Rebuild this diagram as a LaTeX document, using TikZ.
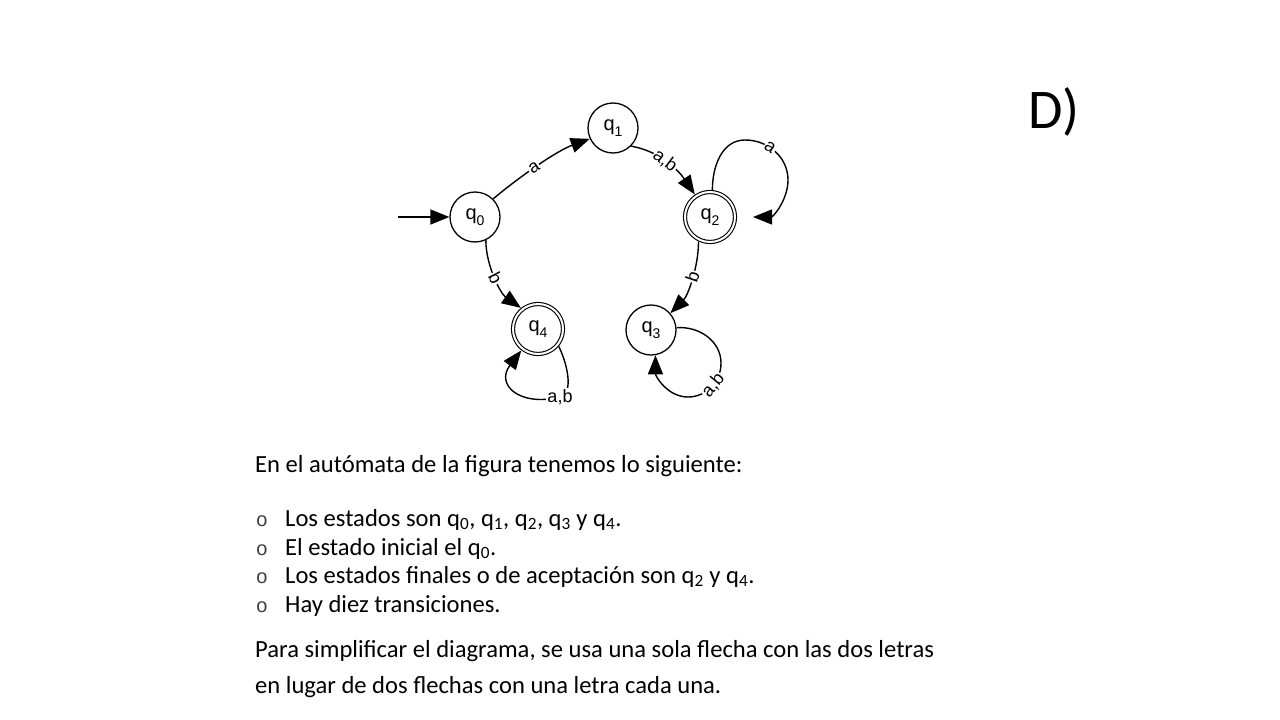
\documentclass[tikz,border=0pt]{standalone}
\usepackage{fontspec}
\setmainfont{Carlito}
\newfontfamily\helv{Liberation Sans}
\usetikzlibrary{arrows.meta}
\newcommand\qsub[1]{q\raisebox{-0.28em}{\fontsize{14}{14}\selectfont #1}}
\newcommand\tq[1]{q\textsubscript{#1}}
\begin{document}
\begin{tikzpicture}[x=1pt,y=1pt,
  state/.style={circle,draw,line width=1.3pt,minimum size=50pt,inner sep=0pt,
    font=\helv\fontsize{20}{20}\selectfont},
  accept/.style={state,double,double distance=2pt,line width=1.1pt,outer sep=2.2pt},
  edge/.style={line width=1.4pt,-{Triangle[length=19pt,width=15pt]}},
  lbl/.style={fill=white,inner sep=1pt,font=\helv\fontsize{18}{18}\selectfont},
  txt/.style={anchor=base west,inner sep=0pt,font=\fontsize{24.6}{28}\selectfont},
  bul/.style={anchor=base,inner sep=0pt,text=black!75,font=\helv\fontsize{20}{20}\selectfont}]
\useasboundingbox (0,0) rectangle (1280,-720);
\fill[white] (0,0) rectangle (1280,-720);

% states
\node[state]  (q0) at (475,-217) {\qsub{0}};
\node[state]  (q1) at (613,-128) {\qsub{1}};
\node[accept] (q2) at (710,-217) {\qsub{2}};
\node[state]  (q3) at (651,-330) {\qsub{3}};
\node[accept] (q4) at (538,-329) {\qsub{4}};
\coordinate (init) at (398,-217);
\coordinate (l2end) at (753,-217);
\coordinate (l2top) at (745,-140);
\coordinate (l2right) at (788,-180);
\coordinate (l4corner) at (560,-397);
\coordinate (l3right) at (721,-363);
\coordinate (l3bot) at (688,-397);

% transitions
\draw[edge] (init) -- (q0);
\draw[edge] (q0.45) .. controls +(40:35) and +(200:35) .. node[lbl,sloped,pos=0.45]{a} (q1.205);
\draw[edge] (q1.-45) .. controls +(-10:30) and +(124:28) .. node[lbl,sloped,pos=0.45]{a,b} (q2.124);
\draw[edge] (q2.-115) .. controls +(-90:25) and +(45:25) .. node[lbl,sloped,pos=0.45]{b} (q3.41);
\draw[edge] (q0.-65) .. controls +(-90:25) and +(145:25) .. node[lbl,sloped,pos=0.5]{b} (q4.129);
\draw[edge] (q2.85) to[out=90,in=180] (l2top) to[out=0,in=90] node[lbl,sloped,pos=0.4]{a} (l2right) to[out=-90,in=0] (l2end);
\draw[edge] (q4.-40) .. controls (570,-370) and (572,-395) .. (l4corner)
  .. controls (520,-407) and (495,-385) .. (q4.-128);
\node[lbl] (l4lbl) at (l4corner) {a,b};
\draw[edge] (q3.5) to[out=5,in=90] (l3right) to[out=-90,in=0] node[lbl,sloped,pos=0.45]{a,b} (l3bot) to[out=180,in=-90] (q3.-80);

% title
\node[anchor=base west,inner sep=0pt,font=\fontsize{56}{56}\selectfont] (title) at (1028,-128) {D)};

% text
\node[txt] (t0) at (255,-472) {En el autómata de la figura tenemos lo siguiente:};
\node[bul] (b1) at (262,-526) {o};
\node[txt] (t1) at (285,-526) {Los estados son \tq{0}, \tq{1}, \tq{2}, \tq{3} y \tq{4}.};
\node[bul] (b2) at (262,-555) {o};
\node[txt] (t2) at (285,-555) {El estado inicial el \tq{0}.};
\node[bul] (b3) at (262,-583) {o};
\node[txt] (t3) at (285,-583) {Los estados finales o de aceptación son \tq{2} y \tq{4}.};
\node[bul] (b4) at (262,-612) {o};
\node[txt] (t4) at (285,-612) {Hay diez transiciones.};
\node[txt] (t5) at (255,-657) {Para simplificar el diagrama, se usa una sola flecha con las dos letras};
\node[txt] (t6) at (255,-693) {en lugar de dos flechas con una letra cada una.};
\end{tikzpicture}
\end{document}
